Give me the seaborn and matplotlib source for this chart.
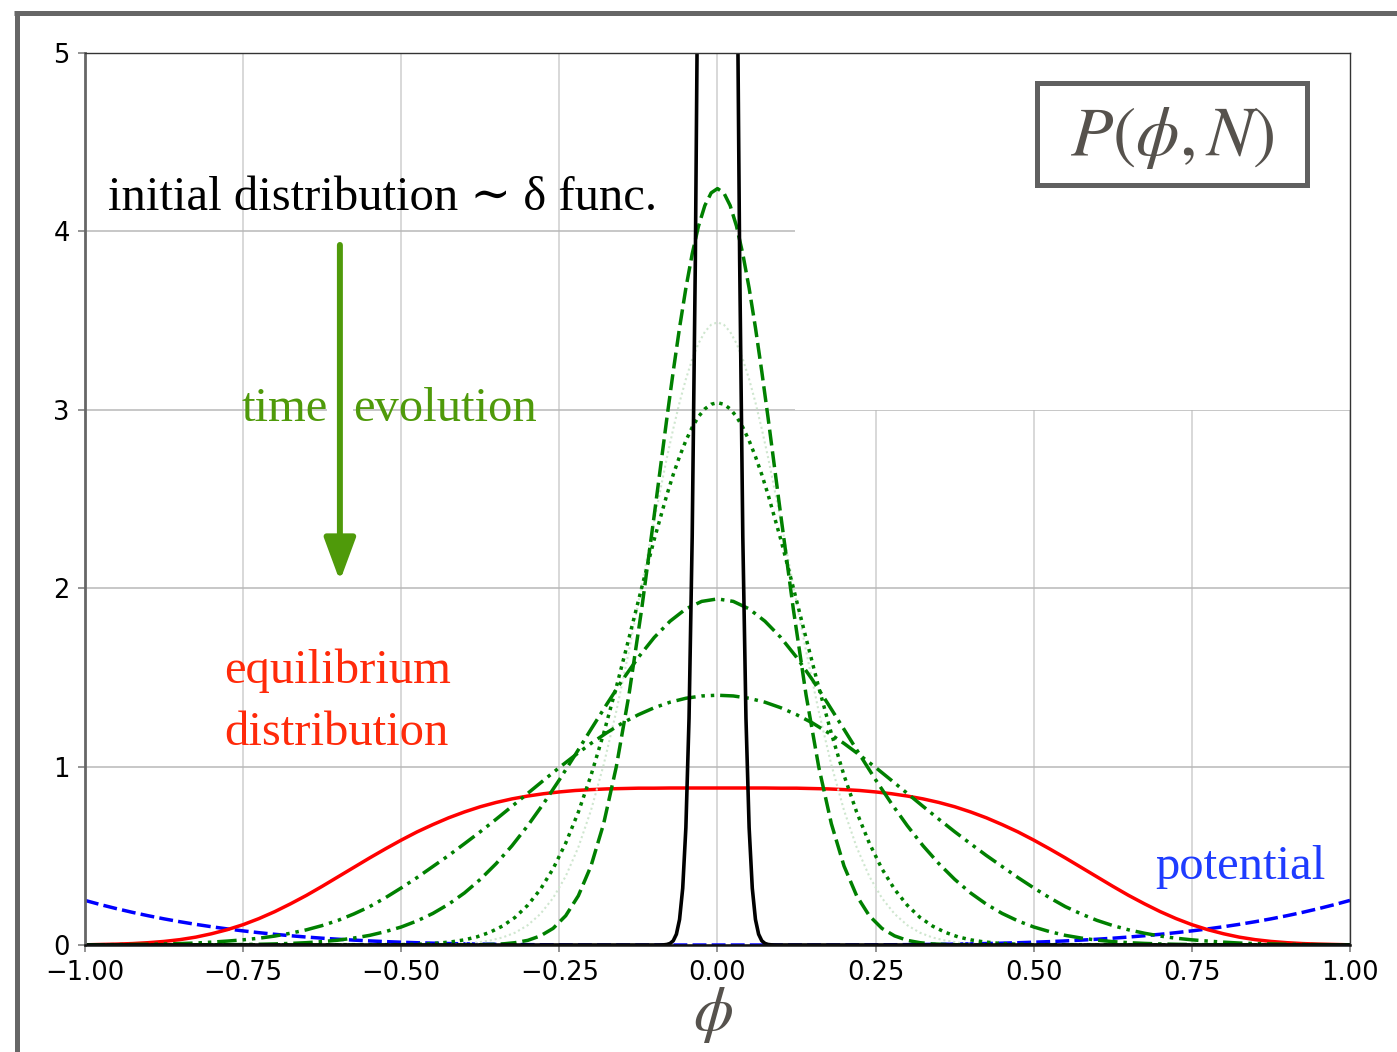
import matplotlib
matplotlib.use("Agg")
import matplotlib.pyplot as plt
import seaborn as sns
from matplotlib.patches import Rectangle
from matplotlib.lines import Line2D

# ---------------- data ----------------
x_broad = [-1.000, -0.975, -0.950, -0.925, -0.900, -0.875, -0.850, -0.825, -0.800, -0.775,
           -0.750, -0.725, -0.700, -0.675, -0.650, -0.625, -0.600, -0.575, -0.550, -0.525,
           -0.500, -0.475, -0.450, -0.425, -0.400, -0.375, -0.350, -0.325, -0.300, -0.275,
           -0.250, -0.225, -0.200, -0.175, -0.150, -0.125, -0.100, -0.075, -0.050, -0.025,
           0.000, 0.025, 0.050, 0.075, 0.100, 0.125, 0.150, 0.175, 0.200, 0.225,
           0.250, 0.275, 0.300, 0.325, 0.350, 0.375, 0.400, 0.425, 0.450, 0.475,
           0.500, 0.525, 0.550, 0.575, 0.600, 0.625, 0.650, 0.675, 0.700, 0.725,
           0.750, 0.775, 0.800, 0.825, 0.850, 0.875, 0.900, 0.925, 0.950, 0.975, 1.000]

equilibrium = [0.001, 0.003, 0.005, 0.008, 0.013, 0.020, 0.030, 0.044, 0.063, 0.086,
               0.114, 0.148, 0.187, 0.231, 0.278, 0.329, 0.382, 0.435, 0.488, 0.539,
               0.588, 0.634, 0.675, 0.713, 0.746, 0.775, 0.799, 0.819, 0.835, 0.848,
               0.858, 0.866, 0.871, 0.875, 0.877, 0.879, 0.879, 0.880, 0.880, 0.880,
               0.880, 0.880, 0.880, 0.880, 0.879, 0.879, 0.877, 0.875, 0.871, 0.866,
               0.858, 0.848, 0.835, 0.819, 0.799, 0.775, 0.746, 0.713, 0.675, 0.634,
               0.588, 0.539, 0.488, 0.435, 0.382, 0.329, 0.278, 0.231, 0.187, 0.148,
               0.114, 0.086, 0.063, 0.044, 0.030, 0.020, 0.013, 0.008, 0.005, 0.003, 0.001]

potential = [0.2500, 0.2259, 0.2036, 0.1830, 0.1640, 0.1465, 0.1305, 0.1158, 0.1024, 0.0902,
             0.0791, 0.0691, 0.0600, 0.0519, 0.0446, 0.0381, 0.0324, 0.0273, 0.0229, 0.0190,
             0.0156, 0.0127, 0.0103, 0.0082, 0.0064, 0.0049, 0.0038, 0.0028, 0.0020, 0.0014,
             0.0010, 0.0006, 0.0004, 0.0002, 0.0001, 0.0001, 0.0, 0.0, 0.0, 0.0,
             0.0, 0.0, 0.0, 0.0, 0.0, 0.0001, 0.0001, 0.0002, 0.0004, 0.0006,
             0.0010, 0.0014, 0.0020, 0.0028, 0.0038, 0.0049, 0.0064, 0.0082, 0.0103, 0.0127,
             0.0156, 0.0190, 0.0229, 0.0273, 0.0324, 0.0381, 0.0446, 0.0519, 0.0600, 0.0691,
             0.0791, 0.0902, 0.1024, 0.1158, 0.1305, 0.1465, 0.1640, 0.1830, 0.2036, 0.2259, 0.2500]

p_dashdot = [0.0, 0.0, 0.0, 0.0001, 0.0001, 0.0002, 0.0004, 0.0006, 0.001, 0.0016,
             0.0025, 0.004, 0.006, 0.009, 0.013, 0.019, 0.027, 0.039, 0.054, 0.075,
             0.101, 0.135, 0.177, 0.229, 0.292, 0.368, 0.456, 0.556, 0.669, 0.793,
             0.926, 1.066, 1.209, 1.350, 1.487, 1.613, 1.724, 1.815, 1.884, 1.926,
             1.940, 1.926, 1.884, 1.815, 1.724, 1.613, 1.487, 1.350, 1.209, 1.066,
             0.926, 0.793, 0.669, 0.556, 0.456, 0.368, 0.292, 0.229, 0.177, 0.135,
             0.101, 0.075, 0.054, 0.039, 0.027, 0.019, 0.013, 0.009, 0.006, 0.004,
             0.0025, 0.0016, 0.001, 0.0006, 0.0004, 0.0002, 0.0001, 0.0001, 0.0, 0.0, 0.0]

p_dashdotdot = [0.001, 0.0015, 0.002, 0.003, 0.004, 0.006, 0.008, 0.011, 0.016, 0.022,
                0.029, 0.038, 0.050, 0.066, 0.085, 0.109, 0.138, 0.174, 0.215, 0.265,
                0.320, 0.378, 0.440, 0.502, 0.568, 0.635, 0.705, 0.777, 0.850, 0.923,
                0.995, 1.064, 1.130, 1.190, 1.245, 1.291, 1.330, 1.361, 1.383, 1.396,
                1.400, 1.396, 1.383, 1.361, 1.330, 1.291, 1.245, 1.190, 1.130, 1.064,
                0.995, 0.923, 0.850, 0.777, 0.705, 0.635, 0.568, 0.502, 0.440, 0.378,
                0.320, 0.265, 0.215, 0.174, 0.138, 0.109, 0.085, 0.066, 0.050, 0.038,
                0.029, 0.022, 0.016, 0.011, 0.008, 0.006, 0.004, 0.003, 0.002, 0.0015, 0.001]

x_narrow = [-1.00, -0.50, -0.48, -0.46, -0.44, -0.42, -0.40, -0.38, -0.36, -0.34, -0.32,
            -0.30, -0.28, -0.26, -0.24, -0.22, -0.20, -0.18, -0.16, -0.14, -0.12,
            -0.10, -0.08, -0.07, -0.06, -0.05, -0.04, -0.03, -0.02, -0.01,
            0.00, 0.01, 0.02, 0.03, 0.04, 0.05, 0.06, 0.07, 0.08, 0.10,
            0.12, 0.14, 0.16, 0.18, 0.20, 0.22, 0.24, 0.26, 0.28,
            0.30, 0.32, 0.34, 0.36, 0.38, 0.40, 0.42, 0.44, 0.46, 0.48, 0.50, 1.00]

p_dashed = [0.0, 0.0, 0.0, 0.0, 0.0001, 0.0002, 0.0005, 0.001, 0.003, 0.006, 0.013,
            0.026, 0.051, 0.093, 0.164, 0.276, 0.443, 0.680, 0.999, 1.402, 1.880,
            2.410, 2.954, 3.215, 3.460, 3.682, 3.874, 4.030, 4.145, 4.216,
            4.240, 4.216, 4.145, 4.030, 3.874, 3.682, 3.460, 3.215, 2.954, 2.410,
            1.880, 1.402, 0.999, 0.680, 0.443, 0.276, 0.164, 0.093, 0.051,
            0.026, 0.013, 0.006, 0.003, 0.001, 0.0005, 0.0002, 0.0001, 0.0, 0.0, 0.0, 0.0]

p_faint = [0.0, 0.0002, 0.0005, 0.001, 0.002, 0.004, 0.008, 0.014, 0.025, 0.042, 0.069,
           0.111, 0.174, 0.263, 0.385, 0.548, 0.755, 1.010, 1.310, 1.648, 2.011,
           2.380, 2.732, 2.893, 3.041, 3.172, 3.283, 3.372, 3.437, 3.477,
           3.490, 3.477, 3.437, 3.372, 3.283, 3.172, 3.041, 2.893, 2.732, 2.380,
           2.011, 1.648, 1.310, 1.010, 0.755, 0.548, 0.385, 0.263, 0.174,
           0.111, 0.069, 0.042, 0.025, 0.014, 0.008, 0.004, 0.002, 0.001, 0.0005, 0.0002, 0.0]

p_dotted = [0.0, 0.0021, 0.0038, 0.0065, 0.011, 0.018, 0.029, 0.046, 0.071, 0.106, 0.155,
            0.223, 0.312, 0.427, 0.571, 0.745, 0.951, 1.186, 1.445, 1.720, 2.001,
            2.274, 2.524, 2.637, 2.738, 2.827, 2.902, 2.962, 3.005, 3.031,
            3.040, 3.031, 3.005, 2.962, 2.902, 2.827, 2.738, 2.637, 2.524, 2.274,
            2.001, 1.720, 1.445, 1.186, 0.951, 0.745, 0.571, 0.427, 0.312,
            0.223, 0.155, 0.106, 0.071, 0.046, 0.029, 0.018, 0.011, 0.0065, 0.0038, 0.0021, 0.0]

x_black = [-1.000, -0.100, -0.095, -0.090, -0.085, -0.080, -0.075, -0.070, -0.065, -0.060,
           -0.055, -0.050, -0.045, -0.040, -0.035, -0.030, -0.025, -0.020, -0.015, -0.010,
           -0.005, 0.000, 0.005, 0.010, 0.015, 0.020, 0.025, 0.030, 0.035, 0.040,
           0.045, 0.050, 0.055, 0.060, 0.065, 0.070, 0.075, 0.080, 0.085, 0.090,
           0.095, 0.100, 1.000]

p_initial = [0.0, 0.0, 0.0001, 0.0003, 0.0009, 0.003, 0.0087, 0.0237, 0.0604, 0.143,
             0.318, 0.658, 1.271, 2.29, 3.85, 6.03, 8.84, 12.1, 15.38, 18.3,
             20.29, 21.0, 20.29, 18.3, 15.38, 12.1, 8.84, 6.03, 3.85, 2.29,
             1.271, 0.658, 0.318, 0.143, 0.0604, 0.0237, 0.0087, 0.003, 0.0009, 0.0003,
             0.0001, 0.0, 0.0]

x_ticks = [-1.00, -0.75, -0.50, -0.25, 0.00, 0.25, 0.50, 0.75, 1.00]
x_tick_labels = ["\u22121.00", "\u22120.75", "\u22120.50", "\u22120.25", "0.00",
                 "0.25", "0.50", "0.75", "1.00"]
y_ticks = [0, 1, 2, 3, 4, 5]
y_tick_labels = ["0", "1", "2", "3", "4", "5"]

# ---------------- style ----------------
sns.set_theme(style="whitegrid")
plt.rcParams["font.family"] = ["DejaVu Sans"]
plt.rcParams["mathtext.fontset"] = "stix"
SERIF = ["Liberation Serif", "DejaVu Serif"]

W, H = 1397, 1052
fig = plt.figure(figsize=(W / 100, H / 100), dpi=100)
fig.patch.set_facecolor("white")
ax = fig.add_axes([85 / W, 1 - 945 / H, (1350 - 85) / W, (945 - 53) / H])
ax.set_facecolor("white")

ax.set_xlim(-1, 1)
ax.set_ylim(0, 5)
ax.set_xticks(x_ticks)
ax.set_xticklabels(x_tick_labels)
ax.set_yticks(y_ticks)
ax.set_yticklabels(y_tick_labels)
ax.set_axisbelow(True)
ax.xaxis.grid(True, color="#d2d2d2", lw=1.2)
ax.yaxis.grid(True, color="#b8b8b8", lw=1.1)
ax.tick_params(axis="both", which="major", labelsize=18.5, length=5, width=1.1,
               color="#777777", labelcolor="black", pad=6, direction="out",
               bottom=True, left=True)

for side, col, lw in [("left", "#666666", 2.0), ("bottom", "#111111", 1.8),
                      ("top", "#333333", 1.0), ("right", "#333333", 1.0)]:
    ax.spines[side].set_color(col)
    ax.spines[side].set_linewidth(lw)
    ax.spines[side].set_visible(True)

# white area hiding the grid in the upper right part
ax.add_patch(Rectangle((0.1225, 3.0), 0.8775, 2.0, facecolor="white",
                       edgecolor="none", zorder=1))
# small white gap of the grid line around the arrow
ax.add_patch(Rectangle((-0.6175, 2.97), 0.041, 0.06, facecolor="white",
                       edgecolor="none", zorder=1))

# ---------------- curves ----------------
common = dict(ax=ax, errorbar=None, sort=False, legend=False)
LW = 2.5
sns.lineplot(x=x_broad, y=potential, color="blue", linewidth=LW,
             linestyle=(0, (4.0, 1.5)), **common)
sns.lineplot(x=x_broad, y=equilibrium, color="red", linewidth=LW, linestyle="-", **common)
sns.lineplot(x=x_narrow, y=p_faint, color="#cfe6cf", linewidth=1.5,
             linestyle=(0, (1, 1.4)), **common)
sns.lineplot(x=x_narrow, y=p_dotted, color="green", linewidth=LW,
             linestyle=(0, (1, 1.4)), **common)
sns.lineplot(x=x_broad, y=p_dashdot, color="green", linewidth=LW,
             linestyle=(0, (5.6, 1.7, 1.0, 1.7)), **common)
sns.lineplot(x=x_broad, y=p_dashdotdot, color="green", linewidth=LW,
             linestyle=(0, (5.6, 1.7, 1.0, 1.7, 1.0, 1.7)), **common)
sns.lineplot(x=x_narrow, y=p_dashed, color="green", linewidth=LW,
             linestyle=(0, (4.6, 1.7)), **common)
sns.lineplot(x=x_black, y=p_initial, color="black", linewidth=2.6, linestyle="-", **common)

ax.set_xlabel("")
ax.set_ylabel("")

# ---------------- annotations ----------------
ax.text(-0.9636, 4.12, "initial distribution \u223c \u03b4 func.", fontsize=35,
        family=SERIF, color="black", va="baseline", ha="left", zorder=4)

evo_col = "#4f9a0a"
ax.text(-0.753, 2.937, "time", fontsize=35, family=SERIF, color=evo_col,
        va="baseline", ha="left", zorder=4)
ax.text(-0.5763, 2.937, "evolution", fontsize=35, family=SERIF, color=evo_col,
        va="baseline", ha="left", zorder=4)
ax.annotate("", xy=(-0.597, 2.04), xytext=(-0.597, 3.924),
            arrowprops=dict(arrowstyle="-|>,head_length=1.3,head_width=0.48",
                            color=evo_col, lw=4.3, shrinkA=0, shrinkB=0,
                            mutation_scale=20), zorder=4)

eq_col = "#ff2a0a"
ax.text(-0.780, 1.469, "equilibrium", fontsize=35, family=SERIF, color=eq_col,
        va="baseline", ha="left", zorder=4)
ax.text(-0.780, 1.121, "distribution", fontsize=35, family=SERIF, color=eq_col,
        va="baseline", ha="left", zorder=4)

ax.text(0.6917, 0.37, "potential", fontsize=35, family=SERIF, color="#1f3cff",
        va="baseline", ha="left", zorder=4)

# P(phi, N) box
ax.add_patch(Rectangle((0.505, 4.26), 0.427, 0.572, facecolor="white",
                       edgecolor="#606060", lw=3.6, zorder=5))
ax.text(0.7186, 4.428, r"$P(\phi,N)$", fontsize=50, color="#56524d",
        ha="center", va="baseline", zorder=6)

# x label
fig.text(713 / W, 1 - 1030 / H, r"$\phi$", fontsize=46, color="#56524d",
         ha="center", va="baseline")

# outer frame (top and left border of the picture)
fig.add_artist(Line2D([14 / W, 1.0], [1 - 12.5 / H, 1 - 12.5 / H],
                      color="#666666", lw=3.6, solid_capstyle="butt"))
fig.add_artist(Line2D([16.5 / W, 16.5 / W], [0.0, 1 - 10.5 / H],
                      color="#666666", lw=3.6, solid_capstyle="butt"))

fig.savefig("out.png", dpi=100, facecolor="white")
